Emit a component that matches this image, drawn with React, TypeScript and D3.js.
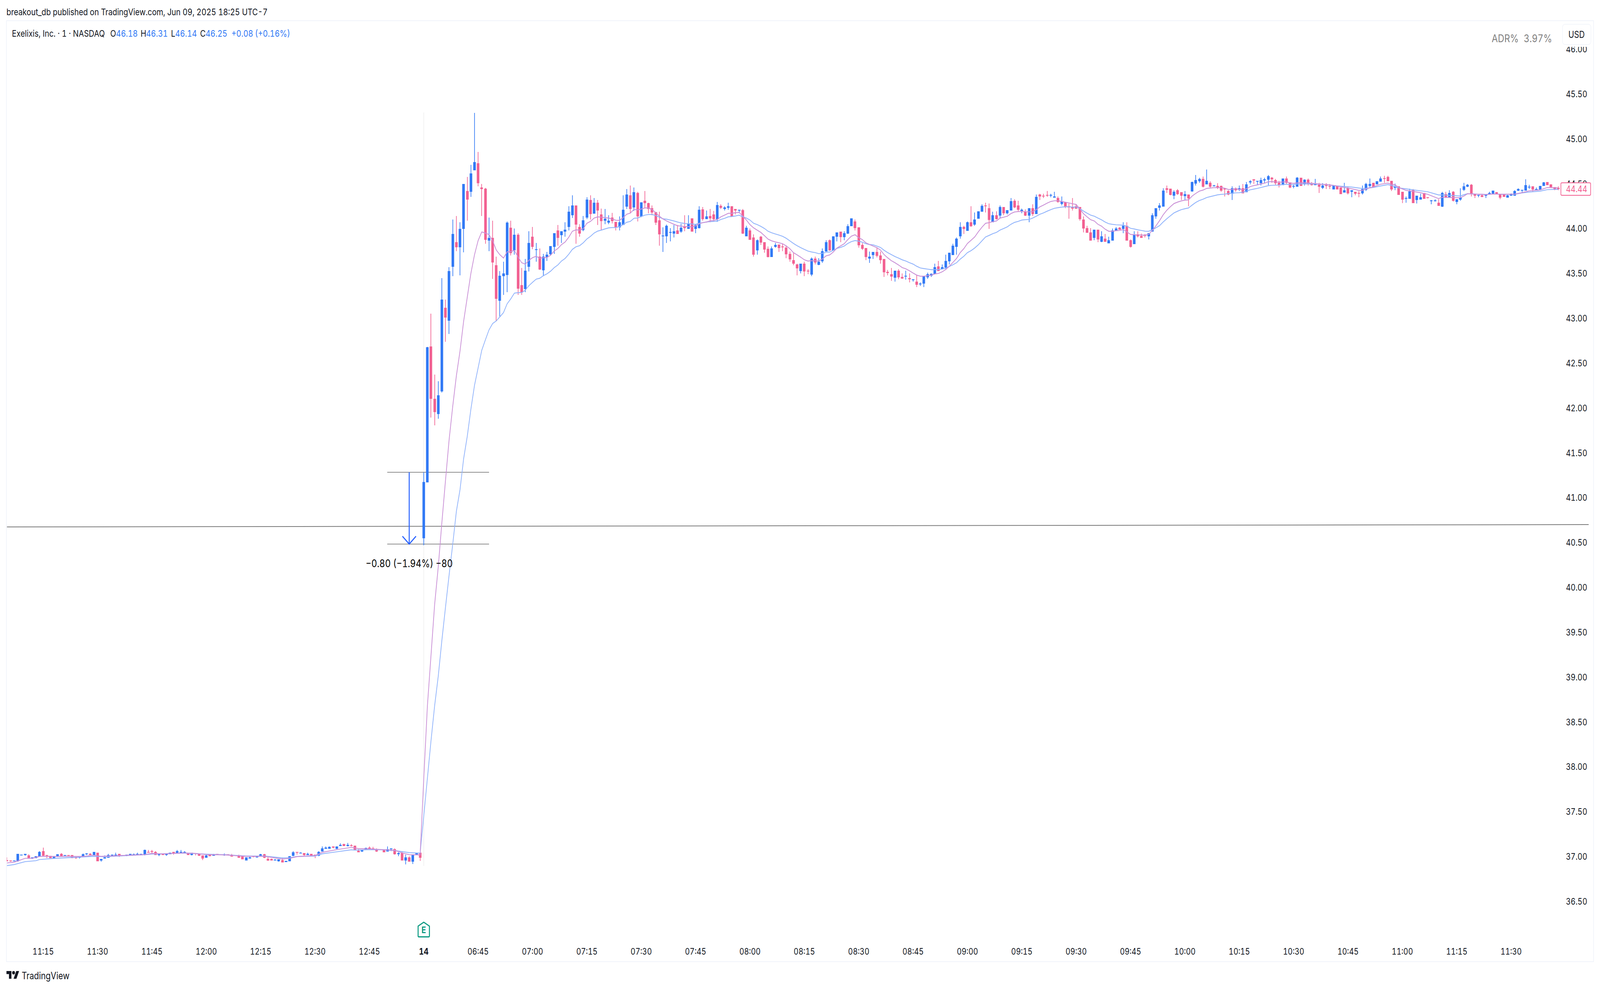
// @ts-nocheck
import * as d3 from "d3";

const WIDTH = 4950;
const HEIGHT = 2532;
const FONT = "Inter, 'Liberation Sans', sans-serif";
const INK = "#131722";
const UP = "#3179f5";
const DOWN = "#f26091";
const FRAME = "#f0f3fa";

// every candle is [open, high, low, close]; bar 0 is the 06:30 open on the 14th
const FIRST_BAR = -115;

const previousDayBars = [
  [36.96,36.99,36.946,36.946],[36.957,36.957,36.942,36.946],[36.946,36.957,36.946,36.957],[36.946,37.029,36.942,37.029],
  [37.017,37.022,37.013,37.022],[37.017,37.029,37.007,37.029],[37.011,37.023,36.978,36.978],[36.978,36.988,36.972,36.988],
  [36.982,37.001,36.982,37.001],[36.999,37.058,36.999,37.05],[37.059,37.098,37.007,37.007],[37.014,37.014,36.981,37.007],
  [37.007,37.007,36.981,36.981],[36.981,37.001,36.981,37.001],[36.998,37.023,36.994,37.023],[37.029,37.04,36.998,36.998],
  [37.007,37.018,37.007,37.018],[37.014,37.014,37.007,37.007],[37.018,37.018,36.981,36.981],[36.988,36.998,36.972,36.984],
  [36.984,37.001,36.979,37.001],[36.998,37.032,36.998,37.023],[37.027,37.04,37.018,37.032],[37.027,37.04,37.014,37.014],
  [37.016,37.049,37.016,37.049],[37.042,37.042,36.946,36.946],[36.955,36.971,36.942,36.971],[36.978,37.011,36.978,36.989],
  [36.985,37.029,36.985,37.014],[37.017,37.022,37.003,37.022],[37.017,37.042,37.003,37.022],[37.029,37.029,36.994,37.003],
  [37.007,37.018,37.007,37.018],[37.014,37.022,37.003,37.022],[37.014,37.029,37.01,37.029],[37.018,37.032,37.01,37.024],
  [37.018,37.042,37.018,37.027],[37.018,37.027,37.013,37.027],[37.016,37.077,37.013,37.071],[37.053,37.072,37.046,37.046],
  [37.058,37.072,37.04,37.053],[37.05,37.059,37.016,37.016],[37.016,37.024,37.003,37.024],[37.033,37.033,37.018,37.018],
  [37.016,37.029,37.007,37.029],[37.023,37.042,37.023,37.042],[37.049,37.049,37.02,37.04],[37.033,37.072,37.033,37.059],
  [37.046,37.072,37.046,37.052],[37.046,37.059,37.04,37.053],[37.042,37.042,37.016,37.016],[37.016,37.042,37.011,37.042],
  [37.04,37.04,37.013,37.027],[37.032,37.032,37.007,37.007],[37.011,37.011,36.959,36.978],[36.985,37.029,36.985,37.011],
  [37.014,37.014,37.003,37.003],[37.007,37.029,37.007,37.024],[37.029,37.029,37.018,37.018],[37.024,37.024,37.014,37.014],
  [37.014,37.032,37.007,37.022],[37.023,37.023,37.014,37.014],[37.018,37.029,36.998,36.998],[37.007,37.017,37.007,37.017],
  [37.011,37.02,36.985,36.985],[37.003,37.003,36.968,36.968],[36.955,36.989,36.955,36.989],[36.976,37.003,36.976,36.988],
  [37.005,37.005,36.989,36.998],[36.988,37.005,36.984,37.005],[37.005,37.029,37.005,37.024],[37.024,37.027,36.981,36.985],
  [36.971,36.989,36.951,36.955],[36.971,36.979,36.955,36.955],[36.955,36.972,36.955,36.963],[36.946,36.968,36.942,36.968],
  [36.959,36.981,36.933,36.933],[36.937,36.95,36.937,36.95],[36.946,37.003,36.946,37.003],[37.007,37.059,37.003,37.045],
  [37.049,37.049,37.02,37.042],[37.033,37.046,37.033,37.042],[37.036,37.036,37.003,37.016],[37.016,37.042,37.016,37.029],
  [37.029,37.029,37.011,37.011],[37.02,37.02,36.981,37.007],[37.007,37.059,37.003,37.049],[37.055,37.111,37.055,37.09],
  [37.085,37.111,37.085,37.098],[37.085,37.111,37.085,37.107],[37.11,37.11,37.09,37.101],[37.085,37.11,37.081,37.11],
  [37.116,37.146,37.116,37.129],[37.136,37.142,37.116,37.116],[37.116,37.151,37.111,37.129],[37.124,37.136,37.111,37.117],
  [37.12,37.12,37.068,37.068],[37.063,37.081,37.046,37.046],[37.055,37.076,37.05,37.076],[37.076,37.098,37.076,37.094],
  [37.098,37.111,37.081,37.085],[37.09,37.107,37.072,37.072],[37.076,37.09,37.05,37.055],[37.072,37.081,37.072,37.081],
  [37.076,37.076,37.046,37.046],[37.055,37.111,37.055,37.081],[37.085,37.092,37.059,37.092],[37.081,37.09,37.02,37.023],
  [37.023,37.046,37.003,37.04],[37.04,37.05,36.955,36.955],[36.955,37.02,36.911,36.989],[36.989,37.003,36.942,36.942],
  [36.942,37.02,36.915,37.016],[37.016,37.042,37.016,37.037],[37.042,37.042,36.95,36.985],
];

const openingBars = [
  [40.549,41.283,40.471,41.175],[41.171,42.68,41.17,42.675],[42.686,43.053,41.891,42.104],[42.104,42.371,41.804,41.952],
  [41.934,42.298,41.882,42.142],[42.184,43.448,42.17,43.208],[43.116,43.208,42.737,43.008],[42.973,43.57,42.825,43.526],
  [43.575,44.101,43.471,43.94],[43.848,44.138,43.75,43.791],[43.791,44.07,43.48,43.996],[43.996,44.498,43.733,44.498],
  [44.419,44.576,44.088,44.323],[44.408,44.711,44.354,44.614],[44.649,45.291,44.649,44.741],[44.728,44.854,44.471,44.508],
  [44.458,44.496,44.14,44.441],[44.444,44.453,43.833,43.876],[43.866,44.123,43.75,43.896],[43.896,44.088,43.441,43.621],
  [43.591,43.688,42.97,43.216],[43.196,43.526,43.02,43.473],[43.471,43.631,43.261,43.5],[43.483,44.08,43.291,44.066],
  [44.01,44.088,43.7,43.726],[43.758,44.001,43.71,43.931],[43.931,43.948,43.26,43.328],[43.37,43.561,43.26,43.286],
  [43.326,43.661,43.291,43.53],[43.575,43.97,43.52,43.84],[43.91,44.018,43.77,43.796],[43.762,43.84,43.631,43.77],
  [43.688,43.778,43.54,43.543],[43.535,43.718,43.47,43.688],[43.683,43.74,43.64,43.71],[43.713,43.805,43.7,43.805],
  [43.796,43.948,43.718,43.948],[43.98,44.04,43.81,43.896],[43.926,43.97,43.84,43.97],[43.966,44.07,43.91,43.988],
  [44.018,44.249,43.979,44.188],[44.149,44.371,44.118,44.257],[44.257,44.257,43.831,44.044],[44.018,44.048,43.909,43.944],
  [43.983,44.14,43.97,44.092],[44.122,44.349,44.105,44.323],[44.318,44.371,44.101,44.162],[44.166,44.34,44.166,44.288],
  [44.288,44.318,44.04,44.201],[44.157,44.223,43.979,44.083],[44.088,44.218,44.048,44.109],[44.066,44.149,44.048,44.088],
  [44.122,44.175,44.057,44.083],[44.075,44.075,43.979,44.014],[44.014,44.136,43.979,44.07],[44.04,44.371,44.04,44.21],
  [44.244,44.44,44.218,44.379],[44.371,44.479,44.175,44.218],[44.236,44.458,44.196,44.405],[44.397,44.41,44.079,44.136],
  [44.136,44.292,44.127,44.292],[44.31,44.419,44.231,44.284],[44.284,44.288,44.17,44.218],[44.227,44.257,44.149,44.179],
  [44.183,44.183,44.04,44.066],[44.092,44.188,43.809,43.935],[43.913,44.014,43.739,43.922],[43.913,44.044,43.839,44.031],
  [43.953,44.005,43.857,43.961],[43.944,44.04,43.9,43.97],[43.979,44.04,43.94,43.94],[43.966,44.053,43.953,44.009],
  [44.022,44.149,43.97,44.005],[43.996,44.149,43.996,44.057],[44.114,44.114,43.966,43.966],[43.996,44.048,43.948,44.04],
  [44.005,44.249,44.001,44.21],[44.214,44.24,44.088,44.105],[44.105,44.201,44.105,44.136],[44.14,44.218,44.07,44.114],
  [44.157,44.196,44.079,44.105],[44.105,44.297,44.075,44.262],[44.253,44.271,44.218,44.231],[44.218,44.249,44.201,44.236],
  [44.231,44.288,44.21,44.249],[44.249,44.249,44.136,44.136],[44.218,44.218,44.157,44.201],[44.201,44.21,44.179,44.21],
];

const morningBars = [
  [44.205,44.218,43.94,43.944],[43.913,44.031,43.913,44.009],[43.979,44.001,43.874,43.874],[43.9,43.935,43.687,43.709],
  [43.757,43.879,43.709,43.87],[43.909,43.918,43.818,43.844],[43.848,43.848,43.731,43.765],[43.774,43.8,43.678,43.683],
  [43.683,43.8,43.683,43.778],[43.796,43.839,43.787,43.818],[43.822,43.822,43.739,43.783],[43.8,43.831,43.748,43.791],
  [43.787,43.809,43.67,43.713],[43.718,43.744,43.63,43.657],[43.648,43.726,43.591,43.609],[43.6,43.609,43.478,43.556],
  [43.526,43.609,43.5,43.609],[43.609,43.63,43.469,43.522],[43.529,43.546,43.491,43.523],[43.487,43.678,43.469,43.665],
  [43.665,43.687,43.6,43.622],[43.596,43.67,43.591,43.63],[43.635,43.779,43.617,43.748],[43.744,43.87,43.744,43.848],
  [43.87,43.879,43.752,43.757],[43.757,43.914,43.757,43.914],[43.909,43.957,43.857,43.957],[43.966,43.966,43.848,43.905],
  [43.905,43.97,43.87,43.948],[43.944,44.048,43.94,44.027],[44.027,44.114,44.027,44.114],[44.079,44.101,43.979,44.005],
  [44.014,44.014,43.787,43.813],[43.818,43.839,43.761,43.774],[43.783,43.783,43.648,43.683],[43.665,43.744,43.617,43.687],
  [43.704,43.739,43.661,43.739],[43.739,43.787,43.678,43.696],[43.7,43.744,43.609,43.648],[43.661,43.661,43.461,43.513],
  [43.517,43.539,43.478,43.504],[43.491,43.561,43.417,43.465],[43.452,43.53,43.408,43.53],[43.53,43.548,43.435,43.456],
  [43.461,43.5,43.439,43.443],[43.465,43.53,43.43,43.474],[43.448,43.5,43.4,43.435],[43.426,43.435,43.408,43.435],
  [43.408,43.478,43.347,43.374],[43.378,43.4,43.36,43.387],[43.387,43.474,43.347,43.474],[43.456,43.508,43.439,43.491],
  [43.474,43.5,43.461,43.496],[43.491,43.609,43.491,43.57],[43.578,43.639,43.526,43.526],[43.548,43.6,43.548,43.57],
  [43.565,43.709,43.548,43.639],[43.635,43.731,43.6,43.731],[43.704,43.831,43.704,43.809],[43.796,43.9,43.709,43.887],
  [43.913,44.07,43.887,44.018],[44.018,44.031,43.94,43.996],[43.974,44.079,43.974,44.07],[44.07,44.249,44.018,44.027],
  [44.044,44.179,44.031,44.101],[44.109,44.192,44.109,44.192],[44.188,44.27,44.188,44.253],[44.257,44.288,44.179,44.249],
  [44.227,44.279,43.996,44.096],[44.07,44.188,44.07,44.149],[44.149,44.192,44.101,44.105],[44.144,44.257,44.118,44.24],
  [44.24,44.24,44.149,44.17],[44.17,44.205,44.157,44.205],[44.201,44.34,44.201,44.305],[44.31,44.327,44.227,44.236],
  [44.257,44.31,44.188,44.209],[44.197,44.223,44.17,44.21],[44.188,44.214,44.14,44.144],[44.144,44.227,44.07,44.227],
  [44.227,44.271,44.14,44.162],[44.162,44.379,44.162,44.353],[44.379,44.388,44.318,44.358],[44.366,44.388,44.34,44.358],
  [44.375,44.419,44.353,44.366],[44.366,44.388,44.349,44.375],[44.345,44.41,44.345,44.358],[44.34,44.358,44.288,44.297],
  [44.275,44.358,44.257,44.301],[44.292,44.292,44.227,44.244],
];

const middayBars = [
  [44.249,44.279,44.109,44.236],[44.24,44.34,44.201,44.223],[44.249,44.27,44.218,44.223],[44.24,44.24,44.088,44.105],
  [44.101,44.135,43.957,44.0],[44.005,44.031,43.953,43.953],[43.957,44.005,43.866,43.866],[43.896,43.987,43.87,43.987],
  [43.987,43.987,43.848,43.879],[43.852,43.97,43.848,43.913],[43.887,43.94,43.852,43.852],[43.835,43.909,43.835,43.87],
  [43.866,44.0,43.866,43.979],[43.974,44.018,43.974,44.0],[44.009,44.018,43.987,43.987],[43.996,44.07,43.948,44.031],
  [44.031,44.07,43.866,43.866],[43.87,43.877,43.787,43.796],[43.826,43.97,43.826,43.935],[43.935,43.97,43.9,43.913],
  [43.918,43.944,43.896,43.896],[43.931,43.94,43.9,43.918],[43.913,43.948,43.879,43.948],[43.966,44.17,43.966,44.149],
  [44.135,44.227,44.109,44.227],[44.231,44.284,44.201,44.257],[44.244,44.449,44.244,44.423],[44.449,44.479,44.397,44.432],
  [44.445,44.445,44.37,44.375],[44.366,44.427,44.327,44.41],[44.427,44.44,44.375,44.384],[44.405,44.405,44.318,44.366],
  [44.362,44.418,44.318,44.384],[44.379,44.379,44.249,44.336],[44.414,44.525,44.41,44.519],[44.501,44.597,44.481,44.54],
  [44.527,44.567,44.51,44.553],[44.553,44.58,44.458,44.466],[44.492,44.658,44.492,44.532],[44.51,44.527,44.45,44.466],
  [44.471,44.488,44.471,44.479],[44.475,44.505,44.44,44.453],[44.475,44.48,44.41,44.423],[44.445,44.455,44.358,44.436],
  [44.418,44.427,44.37,44.379],[44.388,44.471,44.318,44.449],[44.449,44.458,44.41,44.427],[44.432,44.479,44.418,44.449],
  [44.449,44.497,44.392,44.392],[44.405,44.519,44.405,44.492],[44.514,44.54,44.492,44.527],[44.549,44.549,44.497,44.536],
  [44.527,44.532,44.488,44.532],[44.506,44.567,44.479,44.54],[44.536,44.567,44.51,44.549],[44.545,44.597,44.484,44.584],
  [44.567,44.575,44.51,44.549],[44.54,44.553,44.484,44.506],[44.51,44.532,44.458,44.484],[44.484,44.558,44.484,44.558],
  [44.558,44.58,44.497,44.51],[44.514,44.514,44.449,44.458],[44.466,44.488,44.449,44.475],[44.466,44.575,44.466,44.567],
  [44.567,44.567,44.475,44.475],[44.492,44.549,44.479,44.545],[44.545,44.558,44.479,44.501],[44.506,44.519,44.479,44.484],
  [44.484,44.553,44.484,44.497],[44.488,44.51,44.397,44.466],[44.453,44.506,44.44,44.479],
];

const closingBars = [
  [44.484,44.508,44.44,44.475],[44.475,44.497,44.44,44.466],[44.436,44.485,44.436,44.479],[44.471,44.471,44.436,44.436],
  [44.458,44.458,44.384,44.384],[44.401,44.51,44.401,44.427],[44.453,44.471,44.379,44.392],[44.41,44.427,44.349,44.427],
  [44.41,44.41,44.37,44.388],[44.397,44.418,44.349,44.388],[44.392,44.479,44.379,44.44],[44.432,44.51,44.418,44.497],
  [44.475,44.558,44.458,44.497],[44.51,44.51,44.458,44.462],[44.492,44.527,44.492,44.527],[44.523,44.58,44.523,44.558],
  [44.562,44.588,44.51,44.553],[44.575,44.588,44.527,44.527],[44.532,44.532,44.418,44.436],[44.453,44.501,44.427,44.471],
  [44.471,44.471,44.375,44.375],[44.41,44.41,44.283,44.323],[44.331,44.357,44.288,44.34],[44.331,44.445,44.331,44.414],
  [44.427,44.44,44.283,44.283],[44.318,44.366,44.279,44.366],[44.323,44.388,44.323,44.349],[44.397,44.397,44.331,44.331],
  [44.349,44.349,44.336,44.34],[44.31,44.318,44.27,44.314],[44.305,44.327,44.301,44.314],[44.288,44.327,44.253,44.253],
  [44.244,44.41,44.24,44.397],[44.384,44.41,44.34,44.344],[44.349,44.427,44.349,44.397],[44.41,44.418,44.301,44.31],
  [44.296,44.327,44.27,44.327],[44.323,44.449,44.31,44.349],[44.432,44.51,44.418,44.471],[44.466,44.497,44.462,44.488],
  [44.488,44.497,44.357,44.384],[44.388,44.388,44.34,44.366],[44.37,44.375,44.349,44.375],[44.37,44.388,44.349,44.353],
  [44.366,44.38,44.34,44.375],[44.379,44.41,44.379,44.397],[44.388,44.423,44.38,44.423],[44.405,44.405,44.384,44.384],
  [44.384,44.384,44.327,44.344],[44.379,44.388,44.353,44.353],[44.344,44.375,44.344,44.37],[44.366,44.392,44.366,44.379],
  [44.366,44.427,44.366,44.418],[44.423,44.449,44.418,44.44],[44.427,44.431,44.392,44.431],[44.423,44.549,44.423,44.484],
  [44.458,44.488,44.44,44.466],[44.471,44.471,44.41,44.436],[44.423,44.458,44.423,44.44],[44.436,44.475,44.436,44.475],
  [44.475,44.519,44.475,44.514],[44.519,44.519,44.484,44.484],[44.492,44.492,44.458,44.458],[44.462,44.462,44.427,44.44],
  [44.453,44.471,44.427,44.44],
];

// moving averages, read as [bar, price]
const fastAvgBefore = [
  [-115,36.928],[-113,36.936],[-110,36.979],[-108,36.979],[-106,37.0],[-103,37.0],[-97,37.0],[-94,37.0],[-91,37.014],[-89,37.001],
  [-85,37.008],[-77,37.021],[-75,37.034],[-72,37.029],[-66,37.04],[-63,37.034],[-60,37.021],[-55,37.018],[-49,37.001],[-44,37.002],
  [-39,36.971],[-37,36.979],[-35,36.998],[-30,37.011],[-28,37.046],[-24,37.076],[-20,37.101],[-19,37.095],[-18,37.087],[-15,37.084],
  [-11,37.076],[-8,37.069],[-6,37.04],[-4,37.02],[-1,37.018],
];
const fastAvgJump = [
  [0,37.868],[1,38.676],[2,39.243],[3,39.809],[4,40.229],[5,40.723],[6,41.194],[7,41.648],[8,42.021],[9,42.359],[10,42.634],
  [11,42.966],[12,43.233],[13,43.5],[14,43.708],[15,43.866],[16,43.963],[17,43.95],[18,43.933],[19,43.866],[20,43.761],[21,43.708],
  [22,43.671],[23,43.741],[24,43.741],[25,43.758],[26,43.683],[27,43.62],[28,43.603],[29,43.646],[30,43.675],[31,43.691],[32,43.67],
  [33,43.675],[34,43.678],[35,43.703],[36,43.75],[37,43.778],[38,43.821],[39,43.85],
];
const fastAvgMorning = [
  [40,43.903],[41,43.97],[42,43.986],[43,43.983],[44,43.998],[45,44.059],[46,44.08],[47,44.117],[48,44.131],[49,44.127],[50,44.122],
  [51,44.118],[52,44.105],[53,44.093],[54,44.092],[55,44.121],[56,44.16],[57,44.173],[58,44.214],[59,44.208],[60,44.218],[61,44.23],
  [62,44.23],[63,44.211],[64,44.179],[65,44.138],[66,44.107],[67,44.085],[68,44.066],[69,44.048],[70,44.032],[71,44.027],[72,44.022],
  [73,44.022],[74,44.019],[75,44.03],[76,44.054],[77,44.066],[78,44.073],[79,44.085],[80,44.091],[81,44.102],[82,44.131],[83,44.15],
  [84,44.17],[85,44.17],[86,44.178],[87,44.18],[88,44.141],[89,44.095],[90,44.044],[91,44.008],[92,43.982],[93,43.957],[94,43.921],
  [95,43.882],[96,43.863],[97,43.851],[98,43.841],[99,43.831],[100,43.807],[101,43.776],[102,43.732],[103,43.707],[104,43.681],
  [105,43.652],[106,43.638],[107,43.642],[108,43.64],[109,43.638],[110,43.662],[111,43.696],[112,43.706],[113,43.739],[114,43.783],
  [115,43.807],[116,43.831],[117,43.877],[118,43.916],[119,43.931],[120,43.899],[121,43.877],[122,43.841],[123,43.822],[124,43.805],
  [125,43.787],[126,43.761],[127,43.71],[128,43.674],[129,43.642],[130,43.62],[131,43.594],[132,43.565],[133,43.551],[134,43.529],
  [135,43.504],[136,43.481],[137,43.469],[138,43.469],[139,43.474],[140,43.481],[141,43.494],[142,43.5],[143,43.517],[144,43.543],
  [145,43.58],[146,43.623],[147,43.667],[148,43.732],[149,43.776],[150,43.834],[151,43.87],[152,43.906],[153,43.964],[154,44.015],
  [155,44.059],[156,44.066],[157,44.077],[158,44.085],[159,44.117],[160,44.127],[161,44.138],[162,44.167],[163,44.185],[164,44.189],
  [165,44.192],[166,44.188],[167,44.186],[168,44.188],[169,44.211],[170,44.243],[171,44.262],[172,44.284],[173,44.302],[174,44.31],
  [175,44.31],[176,44.302],[177,44.294],
];
const fastAvgLate = [
  [178,44.286],[179,44.276],[180,44.269],[181,44.221],[182,44.167],[183,44.131],[184,44.099],[185,44.085],[186,44.048],[187,44.027],
  [188,43.993],[189,43.97],[190,43.97],[191,43.976],[192,43.979],[193,43.989],[194,43.964],[195,43.935],[196,43.932],[197,43.929],
  [198,43.928],[199,43.926],[200,43.935],[201,43.979],[202,44.03],[203,44.088],[204,44.153],[205,44.204],[206,44.244],[207,44.279],
  [208,44.295],[209,44.308],[210,44.317],[211,44.32],[212,44.363],[213,44.392],[214,44.418],[215,44.429],[216,44.448],[217,44.452],
  [218,44.456],[219,44.456],[220,44.456],[221,44.45],[222,44.436],[223,44.437],[224,44.443],[225,44.437],[226,44.433],[227,44.443],
  [228,44.468],[229,44.479],[230,44.487],[231,44.498],[232,44.506],[233,44.522],[234,44.524],[235,44.519],[236,44.517],[237,44.519],
  [238,44.522],[239,44.508],[240,44.504],[241,44.511],[242,44.511],[243,44.511],[244,44.51],[245,44.504],[246,44.501],[247,44.497],
  [248,44.493],[249,44.491],[251,44.482],[254,44.458],[256,44.443],[258,44.426],[259,44.426],[260,44.443],[262,44.465],[264,44.494],
  [266,44.507],[267,44.494],[268,44.487],[269,44.458],[271,44.426],[273,44.414],[275,44.4],[277,44.382],[280,44.334],[281,44.349],
  [283,44.346],[285,44.344],[286,44.344],[287,44.363],[288,44.389],[290,44.385],[293,44.379],[295,44.385],[298,44.382],[301,44.385],
  [303,44.4],[305,44.421],[308,44.431],[310,44.458],[312,44.455],[313,44.453],
];

const slowAvgBefore = [
  [-115,36.898],[-113,36.91],[-110,36.942],[-107,36.953],[-106,36.966],[-101,36.981],[-97,36.988],[-91,37.001],[-88,36.997],[-77,37.02],
  [-75,37.027],[-66,37.037],[-60,37.026],[-55,37.02],[-49,37.005],[-44,37.005],[-39,36.984],[-37,36.985],[-35,37.0],[-30,37.005],
  [-28,37.03],[-24,37.052],[-20,37.074],[-19,37.071],[-15,37.076],[-11,37.074],[-8,37.066],[-4,37.043],[-1,37.037],
];
const slowAvgJump = [
  [0,37.45],[1,37.87],[2,38.29],[3,38.68],[4,39.01],[5,39.41],[6,39.78],[7,40.14],[8,40.483],[9,40.848],[10,41.088],[11,41.434],
  [12,41.683],[13,41.985],[14,42.252],[15,42.447],[16,42.643],[17,42.759],[18,42.87],[19,42.941],[20,42.97],[21,43.016],[22,43.063],
  [23,43.161],[24,43.216],[25,43.28],[26,43.286],[27,43.286],[28,43.313],[29,43.363],[30,43.4],[31,43.436],[32,43.446],[33,43.475],
  [34,43.496],[35,43.525],[36,43.565],[37,43.594],[38,43.638],[39,43.667],
];
const slowAvgMorning = [
  [40,43.713],[41,43.768],[42,43.797],[43,43.809],[44,43.841],[45,43.884],[46,43.913],[47,43.95],[48,43.972],[49,43.983],[50,43.996],
  [51,44.008],[52,44.011],[53,44.012],[54,44.022],[55,44.044],[56,44.07],[57,44.08],[58,44.115],[59,44.118],[60,44.134],[61,44.15],
  [62,44.157],[63,44.157],[64,44.146],[65,44.127],[66,44.109],[67,44.105],[68,44.095],[69,44.085],[70,44.073],[71,44.063],[72,44.057],
  [73,44.054],[74,44.051],[75,44.047],[76,44.059],[77,44.066],[78,44.073],[79,44.077],[80,44.08],[81,44.083],[82,44.102],[83,44.114],
  [84,44.131],[85,44.134],[86,44.141],[87,44.149],[88,44.131],[89,44.117],[90,44.095],[91,44.059],[92,44.044],[93,44.025],[94,44.001],
  [95,43.97],[96,43.953],[97,43.94],[98,43.928],[99,43.914],[100,43.892],[101,43.863],[102,43.834],[103,43.809],[104,43.787],[105,43.768],
  [106,43.749],[107,43.739],[108,43.732],[109,43.72],[110,43.725],[111,43.735],[112,43.739],[113,43.757],[114,43.779],[115,43.79],
  [116,43.805],[117,43.834],[118,43.855],[119,43.866],[120,43.86],[121,43.848],[122,43.831],[123,43.822],[124,43.819],[125,43.805],
  [126,43.79],[127,43.758],[128,43.732],[129,43.71],[130,43.688],[131,43.671],[132,43.652],[133,43.638],[134,43.62],[135,43.604],
  [136,43.58],[137,43.561],[138,43.554],[139,43.548],[140,43.542],[141,43.542],[142,43.543],[143,43.548],[144,43.558],[145,43.577],
  [146,43.597],[147,43.619],[148,43.659],[149,43.691],[150,43.732],[151,43.754],[152,43.783],[153,43.819],[154,43.863],[155,43.906],
  [156,43.924],[157,43.943],[158,43.957],[159,43.983],[160,44.001],[161,44.019],[162,44.048],[163,44.069],[164,44.08],[165,44.095],
  [166,44.099],[167,44.102],[168,44.117],[169,44.138],[170,44.16],[171,44.175],[172,44.194],[173,44.211],[174,44.226],[175,44.233],
  [176,44.24],[177,44.243],
];
const slowAvgLate = [
  [178,44.243],[179,44.24],[180,44.24],[181,44.223],[182,44.196],[183,44.172],[184,44.15],[185,44.138],[186,44.117],[187,44.098],
  [188,44.073],[189,44.054],[190,44.047],[191,44.042],[192,44.04],[193,44.037],[194,44.027],[195,44.003],[196,43.996],[197,43.986],
  [198,43.979],[199,43.971],[200,43.97],[201,43.986],[202,44.008],[203,44.032],[204,44.073],[205,44.109],[206,44.143],[207,44.175],
  [208,44.194],[209,44.211],[210,44.221],[211,44.23],[212,44.262],[213,44.291],[214,44.313],[215,44.327],[216,44.346],[217,44.356],
  [218,44.366],[219,44.376],[220,44.381],[221,44.384],[222,44.391],[223,44.394],[224,44.398],[225,44.4],[226,44.405],[227,44.417],
  [228,44.432],[229,44.44],[230,44.448],[231,44.458],[232,44.468],[233,44.478],[234,44.482],[235,44.484],[236,44.485],[237,44.491],
  [238,44.494],[239,44.49],[240,44.491],[241,44.497],[242,44.498],[244,44.498],[246,44.497],[247,44.494],[248,44.491],[249,44.49],
  [251,44.479],[254,44.468],[256,44.463],[258,44.452],[259,44.447],[260,44.449],[262,44.458],[264,44.475],[266,44.49],[267,44.48],
  [269,44.453],[271,44.443],[273,44.431],[275,44.421],[277,44.41],[280,44.375],[281,44.375],[283,44.37],[286,44.363],[287,44.378],
  [288,44.389],[290,44.385],[293,44.38],[295,44.385],[298,44.382],[301,44.382],[303,44.397],[305,44.407],[308,44.417],[310,44.434],
  [312,44.437],[313,44.437],
];

const priceTicks = [46,45.5,45,44.5,44,43.5,43,42.5,42,41.5,41,40.5,40,39.5,39,38.5,38,37.5,37,36.5];
const timeLabels = ["11:15","11:30","11:45","12:00","12:15","12:30","12:45","14","06:45","07:00","07:15","07:30","07:45","08:00","08:15","08:30","08:45","09:00","09:15","09:30","09:45","10:00","10:15","10:30","10:45","11:00","11:15","11:30"];
const legendParts = [
  { text: "Exelixis, Inc. · 1 · NASDAQ", x: 37, blue: false },
  { text: "O", x: 341, blue: false },
  { text: "46.18", x: 359, blue: true },
  { text: "H", x: 435, blue: false },
  { text: "46.31", x: 452, blue: true },
  { text: "L", x: 529, blue: false },
  { text: "46.14", x: 542, blue: true },
  { text: "C", x: 619, blue: false },
  { text: "46.25", x: 636, blue: true },
  { text: "+0.08", x: 716, blue: true },
  { text: "(+0.16%)", x: 789, blue: true },
];
const measureTop = 41.283;
const measureBottom = 40.483;
const lastClose = 44.44;
// sloped line drawn across the whole chart
const trendBars = [-115, 321.4];
const trendPrices = [40.674, 40.7];

const x = d3.scaleLinear().domain([0, 300]).range([1311, 4675]);
const y = d3.scaleLinear().domain([37, 45.5]).range([2192.7, 240.7]);

const bars = [...previousDayBars, ...openingBars, ...morningBars, ...middayBars, ...closingBars];
const fastAvg = [...fastAvgBefore, ...fastAvgJump, ...fastAvgMorning, ...fastAvgLate];
const slowAvg = [...slowAvgBefore, ...slowAvgJump, ...slowAvgMorning, ...slowAvgLate];

const avgLine = d3
  .line()
  .x((d) => x(d[0]))
  .y((d) => y(d[1]));

const Candle = ({ bar, index }) => {
  const [open, high, low, close] = bar;
  const cx = Math.round(x(FIRST_BAR + index));
  const color = close >= open ? UP : DOWN;
  const top = Math.round(y(Math.max(open, close)));
  const bodyHeight = Math.max(2, Math.round(y(Math.min(open, close))) - top);
  const wickTop = Math.round(y(high));
  const wickBottom = Math.round(y(low));
  return (
    <g fill={color}>
      <rect x={cx - 1} y={wickTop} width={2} height={Math.max(wickBottom - wickTop, 2)} />
      <rect x={cx - 4} y={top} width={8} height={bodyHeight} />
    </g>
  );
};

export default function App() {
  const arrowX = 1266;
  const measureY1 = y(measureTop);
  const measureY2 = y(measureBottom);
  const earningsX = x(0);

  // the browser can open narrower than asked, so the drawing follows the window
  return (
    <svg
      viewBox={`0 0 ${WIDTH} ${HEIGHT}`}
      preserveAspectRatio="none"
      style={{ position: "fixed", left: 0, top: 0, width: "100vw", height: "100vh", background: "#fff", fontVariantNumeric: "tabular-nums" }}
      fontFamily={FONT}
    >
      <defs>
        <clipPath id="pane">
          <rect x={21} y={54} width={4908} height={2407} />
        </clipPath>
      </defs>

      <text x={20} y={39} fontSize={23.5} fill={INK} textLength={808} lengthAdjust="spacingAndGlyphs">
        breakout_db published on TradingView.com, Jun 09, 2025 18:25 UTC-7
      </text>
      <rect x={20} y={53} width={4910} height={2409} fill="none" stroke={FRAME} strokeWidth={2} />

      {legendParts.map((p) => (
        <text key={p.x} x={p.x} y={94} fontSize={23.5} fill={p.blue ? UP : INK}>
          {p.text}
        </text>
      ))}

      {/* session break */}
      <line x1={earningsX} x2={earningsX} y1={288} y2={2217} stroke="#f0f0f0" strokeWidth={2} />

      {/* drawings */}
      <line
        x1={x(trendBars[0])}
        x2={x(trendBars[1])}
        y1={y(trendPrices[0])}
        y2={y(trendPrices[1])}
        stroke="#7a7a7a"
        strokeWidth={2}
      />
      <line x1={1198} x2={1513} y1={measureY1} y2={measureY1} stroke="#808080" strokeWidth={1.6} />
      <line x1={1198} x2={1513} y1={measureY2} y2={measureY2} stroke="#808080" strokeWidth={1.6} />
      <g stroke="#2962ff" strokeWidth={3} fill="none">
        <line x1={arrowX} x2={arrowX} y1={measureY1} y2={measureY2} />
        <path d={`M${arrowX - 21},${measureY2 - 20}L${arrowX},${measureY2}L${arrowX + 21},${measureY2 - 20}`} />
      </g>

      <g clipPath="url(#pane)">
        {bars.map((bar, i) => (
          <Candle key={i} bar={bar} index={i} />
        ))}
        <path d={avgLine(slowAvg)} fill="none" stroke="#90b3fb" strokeWidth={2.2} />
        <path d={avgLine(fastAvg)} fill="none" stroke="#c98fd6" strokeWidth={2.2} />
      </g>

      <text x={arrowX} y={1452} textAnchor="middle" fontSize={27} fill="#000">
        −0.80 (−1.94%) −80
      </text>

      {/* price axis */}
      {priceTicks.map((p) => (
        <text key={p} x={4877.5} y={y(p) + 8.3} textAnchor="middle" fontSize={23} fill={INK}>
          {p.toFixed(2)}
        </text>
      ))}
      <rect x={4834} y={62} width={88} height={58} fill="#fff" />
      <rect x={4834} y={62} width={88} height={52} rx={8} fill="#fff" stroke={FRAME} strokeWidth={1.5} />
      <text x={4877.5} y={97} textAnchor="middle" fontSize={24} fill={INK}>
        USD
      </text>

      <g fontSize={27.5} fill="#808080">
        <text x={4615} y={108}>ADR%</text>
        <text x={4714} y={108}>3.97%</text>
      </g>

      <rect x={4829} y={468} width={92} height={32} rx={3} fill="#fff" stroke={DOWN} strokeWidth={2} />
      <text x={4877.5} y={y(lastClose) + 8} textAnchor="middle" fontSize={23} fill={DOWN}>
        {lastClose.toFixed(2)}
      </text>

      {/* time axis */}
      {timeLabels.map((label, i) => (
        <text
          key={i}
          x={x(-105 + 15 * i)}
          y={2444}
          textAnchor="middle"
          fontSize={23}
          fontWeight={label === "14" ? 700 : 400}
          fill={INK}
        >
          {label}
        </text>
      ))}

      {/* earnings flag */}
      <path
        d={`M${earningsX},2361 L${earningsX + 17.5},2371 V2396 Q${earningsX + 17.5},2398.5 ${earningsX + 15},2398.5 H${earningsX - 15} Q${earningsX - 17.5},2398.5 ${earningsX - 17.5},2396 V2371 Z`}
        fill="#fff"
        stroke="#089981"
        strokeWidth={3}
        strokeLinejoin="round"
      />
      <text x={earningsX} y={2389} textAnchor="middle" fontSize={23} fontWeight={700} fill="#089981">
        E
      </text>

      {/* footer logo */}
      <g transform="translate(20,2481.6) scale(1.1)" fill={INK}>
        <path d="M14 22H7V11H0V4h14v18zM28 22h-8l7.5-18h8L28 22z" />
        <circle cx={20} cy={8} r={4} />
      </g>
      <text x={67} y={2507} fontSize={25.5} fill={INK} textLength={148} lengthAdjust="spacingAndGlyphs">
        TradingView
      </text>
    </svg>
  );
}
